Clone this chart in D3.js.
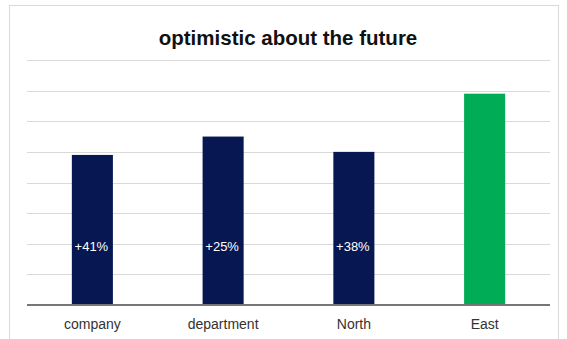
<!DOCTYPE html>
<html>
<head>
<meta charset="utf-8">
<script src="https://cdn.jsdelivr.net/npm/d3@7"></script>
<style>
  html, body { margin: 0; padding: 0; background: #fff; }
  #chart { width: 567px; height: 339px; }
</style>
</head>
<body>
<div id="chart"></div>
<script>
(function () {
  const TITLE = "optimistic about the future";
  const categories = ["company", "department", "North", "East"];
  const values = [49, 55, 50, 69];
  const labels = ["+41%", "+25%", "+38%", ""];
  const barColors = ["#061751", "#061751", "#061751", "#00ac55"];
  const yTicks = [0, 10, 20, 30, 40, 50, 60, 70, 80];

  const WIDTH = 567, HEIGHT = 339;
  const MARGIN = { top: 60, right: 17, bottom: 34, left: 27 };
  const LABEL_AT = 19;

  const svg = d3.select("#chart").append("svg")
    .attr("width", WIDTH)
    .attr("height", HEIGHT);

  // outer frame (bottom edge runs off the picture)
  svg.append("rect")
    .attr("x", 9.5).attr("y", 5.5)
    .attr("width", 549).attr("height", 350)
    .attr("fill", "#fff")
    .attr("stroke", "#d9d9d9")
    .attr("stroke-width", 1);

  const innerW = WIDTH - MARGIN.left - MARGIN.right;
  const innerH = HEIGHT - MARGIN.top - MARGIN.bottom;

  const x = d3.scaleBand().domain(categories).range([0, innerW]).paddingInner(0.686).paddingOuter(0.343);
  const y = d3.scaleLinear().domain([0, 80]).range([innerH, 0]);

  const g = svg.append("g").attr("transform", `translate(${MARGIN.left},${MARGIN.top})`);

  g.append("g")
    .selectAll("line")
    .data(yTicks.slice(1))
    .join("line")
    .attr("x1", 0).attr("x2", innerW)
    .attr("y1", d => Math.round(y(d)) + 0.5)
    .attr("y2", d => Math.round(y(d)) + 0.5)
    .attr("stroke", "#d9d9d9")
    .attr("stroke-width", 1);

  g.append("g")
    .selectAll("rect")
    .data(values)
    .join("rect")
    .attr("x", (d, i) => x(categories[i]))
    .attr("y", d => y(d))
    .attr("width", x.bandwidth())
    .attr("height", d => innerH - y(d))
    .attr("fill", (d, i) => barColors[i]);

  g.append("g")
    .selectAll("text")
    .data(labels)
    .join("text")
    .attr("x", (d, i) => x(categories[i]) + x.bandwidth() / 2 - 1)
    .attr("y", y(LABEL_AT))
    .attr("dy", "0.35em")
    .attr("text-anchor", "middle")
    .attr("fill", "#fff")
    .attr("font-family", "'Liberation Sans', Arial, sans-serif")
    .attr("font-size", "13px")
    .text(d => d);

  // baseline
  g.append("line")
    .attr("x1", 0).attr("x2", innerW)
    .attr("y1", innerH).attr("y2", innerH)
    .attr("stroke", "#767676")
    .attr("stroke-width", 2);

  const xAxis = g.append("g")
    .attr("transform", `translate(0,${innerH})`)
    .call(d3.axisBottom(x).tickSize(0).tickPadding(14));
  xAxis.select(".domain").remove();
  xAxis.selectAll("text")
    .attr("fill", "#333")
    .attr("font-family", "'Liberation Sans', Arial, sans-serif")
    .attr("font-size", "14px");

  svg.append("text")
    .attr("x", 288)
    .attr("y", 45)
    .attr("text-anchor", "middle")
    .attr("fill", "#111")
    .attr("font-family", "'Liberation Sans', Arial, sans-serif")
    .attr("font-size", "20.5px")
    .attr("font-weight", "bold")
    .text(TITLE);
})();
</script>
</body>
</html>
